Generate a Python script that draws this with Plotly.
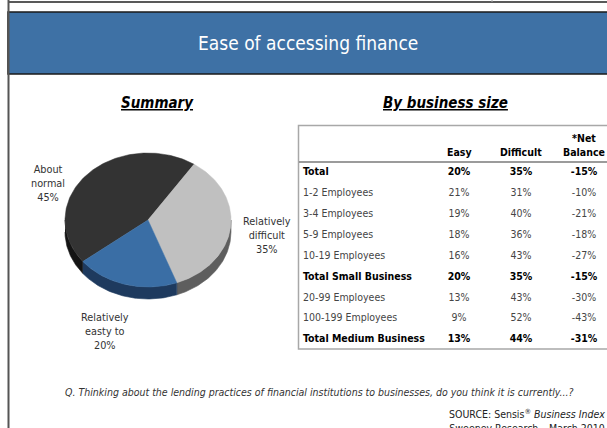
import numpy as np
import plotly.graph_objects as go

# ---------------- data ----------------
TITLE = "Ease of accessing finance"
LEFT_HEADING = "Summary"
RIGHT_HEADING = "By business size"

PIE_LABELS = ["About normal", "Relatively difficult", "Relatively easty to"]
PIE_VALUES = [45, 35, 20]

COLUMN_HEADERS = ["Easy", "Difficult", "*Net<br>Balance"]
ROW_LABELS = ["Total", "1-2 Employees", "3-4 Employees", "5-9 Employees",
              "10-19 Employees", "Total Small Business", "20-99 Employees",
              "100-199 Employees", "Total Medium Business"]
EASY = [20, 21, 19, 18, 16, 20, 13, 9, 13]
DIFFICULT = [35, 31, 40, 36, 43, 35, 43, 52, 44]
NET_BALANCE = [-15, -10, -21, -18, -27, -15, -30, -43, -31]

QUESTION = ("Q. Thinking about the lending practices of financial institutions "
            "to businesses, do you think it is currently...?")
SOURCE = "SOURCE: Sensis<sup>®</sup> <i>Business Index</i><br>Sweeney Research – March 2010"

# ---------------- style / layout ----------------
W, H = 607, 428
FONT = "DejaVu Sans Condensed, Liberation Sans Narrow, Arial Narrow, sans-serif"
HDR_BLUE = "#3e71a5"
PIE_COLORS = ["#333333", "#c0c0c0", "#3a6ea5"]
PIE_SIDES = ["#141414", "#5e5e5e", "#1e3a5e"]
PIE_CX, PIE_CY, PIE_A, PIE_B, PIE_DEPTH = 148, 220, 83, 67, 12
PIE_START_DEG = 218.3
LABEL_POS = [(48, 183), (267, 235), (105, 331)]

ROW0_PX, ROW_STEP = 172.5, 20.9
COL_X = [459, 521, 584]
LABEL_X = 303
TABLE_FS = 10.5

fig = go.Figure()

# ---------------- pie (tilted, with depth) ----------------
total = float(sum(PIE_VALUES))
bounds = [np.radians(PIE_START_DEG)]
for v in PIE_VALUES:
    bounds.append(bounds[-1] - 2 * np.pi * v / total)


def ell(t, dy=0.0):
    return PIE_CX + PIE_A * np.cos(t), PIE_CY - PIE_B * np.sin(t) + dy


for i in range(len(PIE_VALUES)):
    hi, lo = bounds[i], bounds[i + 1]
    for k in range(-2, 3):
        s_lo = max(lo, -np.pi + 2 * np.pi * k)
        s_hi = min(hi, 2 * np.pi * k)
        if s_hi > s_lo:
            t = np.linspace(s_lo, s_hi, 80)
            x1, y1 = ell(t)
            x2, y2 = ell(t[::-1], PIE_DEPTH)
            fig.add_trace(go.Scatter(
                x=np.concatenate([x1, x2]), y=np.concatenate([y1, y2]),
                fill="toself", fillcolor=PIE_SIDES[i], mode="lines",
                line=dict(width=0.6, color=PIE_SIDES[i]),
                hoverinfo="skip", showlegend=False))

for i in range(len(PIE_VALUES)):
    t = np.linspace(bounds[i], bounds[i + 1], 120)
    ex, ey = ell(t)
    fig.add_trace(go.Scatter(
        x=np.concatenate([[PIE_CX], ex, [PIE_CX]]),
        y=np.concatenate([[PIE_CY], ey, [PIE_CY]]),
        fill="toself", fillcolor=PIE_COLORS[i], mode="lines",
        line=dict(width=0.5, color=PIE_COLORS[i]),
        name=PIE_LABELS[i], text=f"{PIE_LABELS[i]}: {PIE_VALUES[i]}%",
        hoveron="fills", hoverinfo="text", showlegend=False))

annotations = []
for (lx, ly), lab, val in zip(LABEL_POS, PIE_LABELS, PIE_VALUES):
    annotations.append(dict(
        x=lx, y=ly, xref="x", yref="y", showarrow=False, align="center",
        text=lab.replace(" ", "<br>", 1) + f"<br>{val}%",
        font=dict(family=FONT, size=10.8, color="#333333")))

# ---------------- table ----------------
rows = np.arange(len(ROW_LABELS))
is_bold = [lab.startswith("Total") for lab in ROW_LABELS]
columns = [EASY, DIFFICULT, NET_BALANCE]

for bold in (False, True):
    idx = [int(r) for r in rows if is_bold[r] == bold]
    tf = dict(family=FONT, size=TABLE_FS, color="#000000" if bold else "#454545",
              weight="bold" if bold else "normal")
    fig.add_trace(go.Scatter(
        x=[LABEL_X] * len(idx), y=idx, yaxis="y2", mode="text",
        text=[ROW_LABELS[r] for r in idx], textposition="middle right",
        textfont=tf, hoverinfo="skip", showlegend=False))
    for cx, col in zip(COL_X, columns):
        fig.add_trace(go.Scatter(
            x=[cx] * len(idx), y=idx, yaxis="y2", mode="text",
            text=[f"{col[r]}%" for r in idx], textposition="middle center",
            textfont=tf, hoverinfo="skip", showlegend=False))

for cx, hdr in zip(COL_X, COLUMN_HEADERS):
    annotations.append(dict(
        x=cx, y=-0.6, xref="x", yref="y2", yanchor="bottom", showarrow=False,
        text=f"<b>{hdr}</b>", align="center",
        font=dict(family=FONT, size=TABLE_FS, color="#000000")))

# ---------------- headings & texts ----------------
annotations += [
    dict(x=307.5, y=43, xref="x", yref="y", showarrow=False, text=TITLE,
         font=dict(family=FONT, size=19, color="#ffffff")),
    dict(x=157, y=103, xref="x", yref="y", showarrow=False,
         text=f"<b><i><u>{LEFT_HEADING}</u></i></b>",
         font=dict(family=FONT, size=15, color="#000000")),
    dict(x=445, y=103, xref="x", yref="y", showarrow=False,
         text=f"<b><i><u>{RIGHT_HEADING}</u></i></b>",
         font=dict(family=FONT, size=15, color="#000000")),
    dict(x=319, y=392, xref="x", yref="y", showarrow=False,
         text=f"<i>{QUESTION}</i>",
         font=dict(family=FONT, size=10.5, color="#333333")),
    dict(x=607, y=405, xref="x", yref="y", xanchor="right", yanchor="top",
         showarrow=False, align="right", text=SOURCE,
         font=dict(family=FONT, size=10.5, color="#222222")),
]

# ---------------- frame shapes ----------------
shapes = [
    dict(type="line", x0=8, x1=607, y0=2, y1=2, xref="x", yref="y",
         line=dict(color="#222222", width=1.5)),
    dict(type="line", x0=492, x1=492, y0=0, y1=2, xref="x", yref="y",
         line=dict(color="#aaaaaa", width=1)),
    dict(type="rect", x0=8, x1=610, y0=12, y1=74, xref="x", yref="y",
         fillcolor=HDR_BLUE, line=dict(color="#1a1a1a", width=1.5), layer="below"),
    dict(type="line", x0=8.5, x1=8.5, y0=0, y1=428, xref="x", yref="y",
         line=dict(color="#555555", width=2)),
    dict(type="rect", x0=298.5, x1=612, y0=125.5, y1=349, xref="x", yref="y",
         line=dict(color="#a8a8a8", width=1.5), layer="below"),
    dict(type="line", x0=299, x1=607, y0=-0.5, y1=-0.5, xref="x", yref="y2",
         line=dict(color="#7a7a7a", width=1.5)),
]

y2_top = (0 - ROW0_PX) / ROW_STEP
y2_bot = (H - ROW0_PX) / ROW_STEP

fig.update_layout(
    width=W, height=H, margin=dict(l=0, r=0, t=0, b=0),
    paper_bgcolor="#ffffff", plot_bgcolor="#ffffff",
    xaxis=dict(range=[0, W], visible=False, fixedrange=True),
    yaxis=dict(range=[H, 0], visible=False, fixedrange=True),
    yaxis2=dict(range=[y2_bot, y2_top], overlaying="y", visible=False,
                fixedrange=True),
    annotations=annotations, shapes=shapes, showlegend=False,
)

fig.write_html(
    "out.html",
    config={"displayModeBar": False},
    post_script="document.body.style.margin='0';document.body.style.overflow='hidden';",
)
